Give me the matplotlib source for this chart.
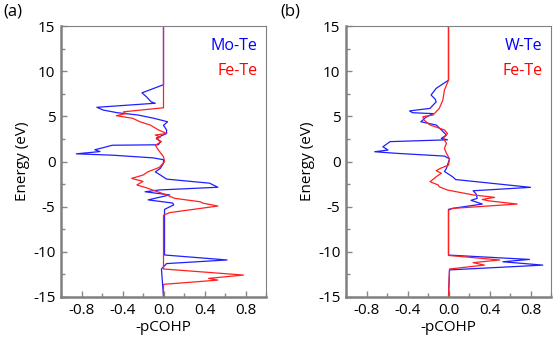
import matplotlib
matplotlib.use("Agg")
import matplotlib.pyplot as plt
from matplotlib.ticker import MultipleLocator

plt.rcParams['font.family'] = ['Open Sans', 'DejaVu Sans']

# panel (a): Mo-Te and Fe-Te, energy (eV) vs -pCOHP
mote_e = [15, 8.5, 7.6, 7.2, 6.6, 6.45, 6.0, 5.7, 5.4, 5.15, 4.8, 4.4, 4.0, 3.5, 3.1,
          2.6, 2.2, 1.85, 1.8, 1.5, 1.3, 1.1, 0.85, 0.7, 0.4, 0.2, -0.2, -0.75, -1.15,
          -1.5, -1.95, -2.4, -2.85, -3.15, -3.35, -3.7, -4.25, -4.6, -4.8, -5.3,
          -10.35, -10.9, -11.3, -11.65, -11.9, -15]
mote_v = [0, 0, -0.21, -0.17, -0.12, -0.08, -0.65, -0.59, -0.45, -0.25, -0.1, 0.04, 0.0,
          0.03, 0.03, -0.07, -0.03, -0.05, -0.5, -0.6, -0.67, -0.62, -0.85, -0.5, -0.1,
          0, 0, -0.03, -0.08, -0.03, 0.03, 0.45, 0.53, -0.04, -0.18, 0.06, -0.15, 0.09,
          0.1, 0.01, 0.01, 0.62, 0.03, 0.0, -0.02, 0]

fete_a_e = [15, 5.95, 5.5, 5.3, 5.07, 4.78, 4.4, 4.04, 3.5, 3.1, 2.93, 2.7, 2.5, 2.2,
            1.8, 1.27, 0.53, 0.0, -0.65, -1.13, -1.5, -1.87, -2.2, -2.6, -2.9, -3.7,
            -4.08, -4.46, -4.6, -4.93, -5.66, -5.95, -11.9, -12.57, -12.94, -13.13,
            -13.6, -15]
fete_a_v = [0, 0, -0.39, -0.37, -0.46, -0.3, -0.23, -0.13, -0.05, 0.03, -0.08, -0.03,
            -0.07, -0.02, -0.08, -0.05, 0.0, 0.01, -0.04, -0.15, -0.2, -0.31, -0.2,
            -0.26, -0.17, 0.03, 0.11, 0.36, 0.38, 0.53, 0.06, 0.0, 0.0, 0.78, 0.44,
            0.53, 0.0, 0]

# panel (b): W-Te and Fe-Te
wte_e = [15, 9.0, 8.1, 7.36, 6.9, 6.6, 6.25, 5.88, 5.6, 5.4, 5.3, 4.9, 4.4, 4.04, 3.5,
         2.93, 2.56, 2.4, 2.2, 1.63, 1.27, 1.08, 0.9, 0.6, 0.3, -0.76, -1.1, -1.69,
         -2.0, -2.86, -3.24, -3.6, -4.08, -4.3, -4.71, -5.19, -5.3, -10.36, -10.84,
         -11.1, -11.47, -12.0, -15]
wte_v = [0, 0, -0.12, -0.17, -0.13, -0.12, -0.15, -0.18, -0.38, -0.35, -0.15, -0.22,
         -0.27, -0.12, -0.07, -0.02, -0.07, -0.01, -0.57, -0.64, -0.59, -0.72, -0.5,
         -0.04, 0.01, -0.02, -0.04, 0.04, 0.07, 0.80, 0.24, 0.27, 0.28, 0.22, 0.33,
         0.04, 0.0, 0.0, 0.79, 0.53, 0.92, 0.01, 0.0]

fete_b_e = [15, 9.0, 7.9, 6.8, 5.88, 5.15, 4.96, 4.6, 4.04, 3.5, 3.1, 2.56, 2.0, 1.45,
            0.9, 0.3, -0.4, -0.76, -1.02, -1.3, -1.69, -2.24, -2.6, -2.8, -3.16, -3.7,
            -3.97, -4.2, -4.35, -4.71, -5.19, -5.4, -10.4, -10.9, -11.2, -11.47,
            -11.9, -15]
fete_b_v = [0, 0, -0.04, -0.055, -0.09, -0.15, -0.25, -0.24, -0.18, -0.04, -0.01,
            -0.05, -0.02, -0.04, -0.02, 0.01, 0.0, -0.08, -0.12, -0.07, -0.12, -0.18,
            -0.10, -0.09, -0.01, 0.24, 0.45, 0.33, 0.39, 0.67, 0.04, 0.0, 0.0, 0.50,
            0.24, 0.35, 0.01, 0]

panels = [
    ("(a)", "Mo-Te", mote_v, mote_e, fete_a_v, fete_a_e),
    ("(b)", "W-Te", wte_v, wte_e, fete_b_v, fete_b_e),
]

fig = plt.figure(figsize=(5.56, 3.41), dpi=100)
W, H = 556.0, 341.0
lefts = [61, 346]
blue = '#1f1fff'
red = '#ff2020'

for (tag, name, bv, be, rv, re_), left in zip(panels, lefts):
    ax = fig.add_axes([left / W, (H - 297) / H, 205 / W, 271 / H])
    ax.plot(bv, be, color=blue, lw=0.9)
    ax.plot(rv, re_, color=red, lw=0.9)
    ax.set_xlim(-1.0, 1.0)
    ax.set_ylim(-15, 15)
    ax.xaxis.set_major_locator(MultipleLocator(0.4))
    ax.xaxis.set_minor_locator(MultipleLocator(0.2))
    ax.yaxis.set_major_locator(MultipleLocator(5))
    ax.yaxis.set_minor_locator(MultipleLocator(2.5))
    ax.set_xticks([-0.8, -0.4, 0.0, 0.4, 0.8])
    ax.set_xticklabels(['-0.8', '-0.4', '0.0', '0.4', '0.8'])
    ax.set_yticks([-15, -10, -5, 0, 5, 10, 15])
    ax.set_yticklabels(['-15', '-10', '-5', '0', '5', '10', '15'])
    ax.tick_params(which='both', direction='in', color='#888888', labelsize=11,
                   top=False, right=False, pad=4)
    ax.tick_params(which='major', length=4, width=1)
    ax.tick_params(which='minor', length=3, width=1)
    for s in ['left', 'bottom']:
        ax.spines[s].set_color('#808080')
        ax.spines[s].set_linewidth(1.8)
    for s in ['top', 'right']:
        ax.spines[s].set_color('#808080')
        ax.spines[s].set_linewidth(0.8)
    ax.set_xlabel('-pCOHP', fontsize=11, labelpad=2)
    ax.set_ylabel('Energy (eV)', fontsize=11, labelpad=2)
    ax.text(0.96, 0.925, name, transform=ax.transAxes, color='blue',
            fontsize=11.5, ha='right', va='center')
    ax.text(0.96, 0.835, 'Fe-Te', transform=ax.transAxes, color='red',
            fontsize=11.5, ha='right', va='center')

fig.text(3 / W, 1 - 12 / H, '(a)', fontsize=12, ha='left', va='center')
fig.text(280 / W, 1 - 12 / H, '(b)', fontsize=12, ha='left', va='center')

plt.savefig('out.png', dpi=100)
plt.close()
